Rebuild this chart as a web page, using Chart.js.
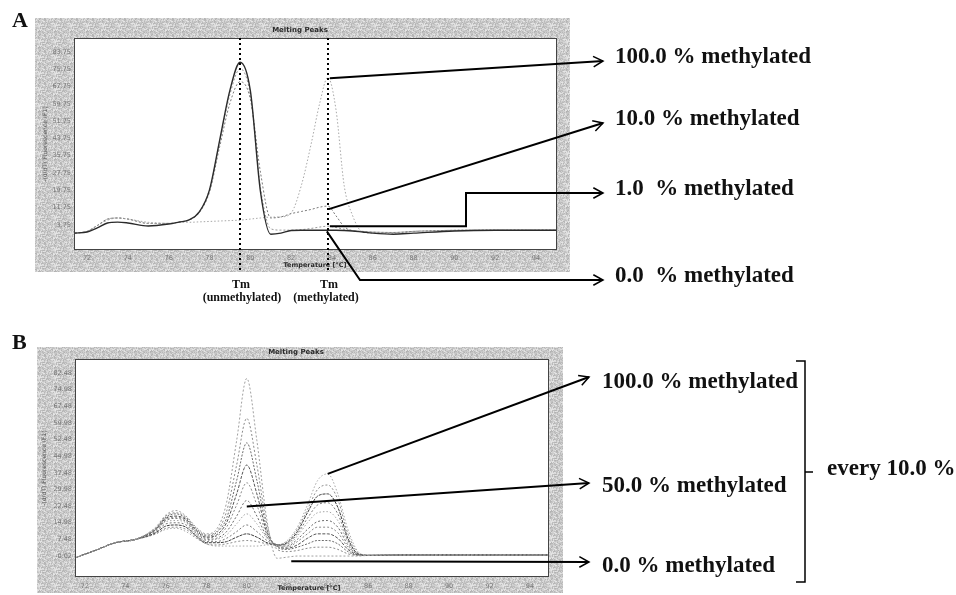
<!DOCTYPE html>
<html><head><meta charset="utf-8">
<script src="https://cdn.jsdelivr.net/npm/chart.js@4/dist/chart.umd.min.js"></script>
<style>
html,body{margin:0;padding:0;background:#fff;}
body{width:956px;height:595px;position:relative;overflow:hidden;font-family:'Liberation Serif','Times New Roman',serif;}
.panel{position:absolute;left:0;}
.lbl{position:absolute;font-weight:bold;font-size:23px;line-height:23px;white-space:pre;color:#111;}
.big{position:absolute;font-weight:bold;font-size:22px;line-height:22px;color:#111;}
.tm{position:absolute;font-weight:bold;font-size:12px;line-height:12px;width:120px;text-align:center;white-space:pre;color:#111;}
</style></head><body>
<canvas id="cA" class="panel" style="top:0px" width="956" height="305"></canvas>
<canvas id="cB" class="panel" style="top:320px" width="956" height="275"></canvas>

<div class="big" style="left:12px;top:9px">A</div>
<div class="big" style="left:12px;top:331px">B</div>

<div class="tm" style="left:181px;top:278px">Tm</div>
<div class="tm" style="left:182px;top:291px">(unmethylated)</div>
<div class="tm" style="left:269px;top:278px">Tm</div>
<div class="tm" style="left:266px;top:291px">(methylated)</div>

<div class="lbl" style="left:615px;top:44px">100.0 % methylated</div>
<div class="lbl" style="left:615px;top:106px">10.0 % methylated</div>
<div class="lbl" style="left:615px;top:176px">1.0  % methylated</div>
<div class="lbl" style="left:615px;top:263px">0.0  % methylated</div>

<div class="lbl" style="left:602px;top:369px">100.0 % methylated</div>
<div class="lbl" style="left:602px;top:473px">50.0 % methylated</div>
<div class="lbl" style="left:602px;top:553px">0.0 % methylated</div>
<div class="lbl" style="left:827px;top:456px">every 10.0 %</div>

<script>
// ---------------- DATA ----------------
const X_TICKS = [72, 74, 76, 78, 80, 82, 84, 86, 88, 90, 92, 94];
const Y_TICKS_A = [3.75, 11.75, 19.75, 27.75, 35.75, 43.75, 51.75, 59.75, 67.75, 75.75, 83.75];
const Y_TICKS_B = [-0.02, 7.48, 14.98, 22.48, 29.98, 37.48, 44.98, 52.48, 59.98, 67.48, 74.98, 82.48];
const TM_UNMETH = 79.5;
const TM_METH = 83.8;

// Panel A: temperatures (°C) and -dF/dT values
const tempsA = [71.4, 72, 72.5, 73, 73.5, 74, 75, 76, 76.5, 77, 77.5, 78, 78.5, 79, 79.5, 80, 80.5, 81, 81.5, 82, 82.5, 83, 83.4, 83.8, 84.2, 84.6, 85, 85.5, 86, 87, 88, 90, 92, 95];
const A_m0   = [0, 0.5, 2.4, 4.7, 5.1, 4.7, 3.3, 4.2, 5.1, 6.1, 9.8, 20, 43, 66, 79, 66, 19, -0.5, 0, 1.2, 1.3, 1.3, 1.3, 1.3, 1.3, 1.2, 1.0, 0.5, 0, -0.5, 0, 1.0, 1.3, 1.3];
const A_m1   = [0, 0.8, 3.5, 6, 7, 6.5, 4.5, 4.5, 5.1, 6.1, 9.8, 20, 42, 64, 76, 64, 21, 2, 1.4, 1.4, 1.6, 2.2, 2.8, 3.2, 2.6, 1.8, 1.2, 0.8, 0.5, 0.3, 0.8, 1.3, 1.4, 1.4];
const A_m10  = [0, 0.8, 3.5, 6.5, 7, 6.5, 4.5, 4.5, 5.1, 6, 9.5, 19, 40, 60, 70, 62, 28, 7, 7.5, 9, 10, 11, 12, 12.5, 8, 3, 1.2, 0.8, 0.5, 0.3, 0.8, 1.3, 1.4, 1.4];
const A_m100 = [0, 0.8, 3.5, 6.5, 7, 6.5, 5, 4.5, 5, 5, 5.2, 5.4, 5.6, 5.8, 6, 6.5, 7, 7.4, 7.5, 9.3, 22, 42, 60, 72, 57, 22, 8.4, 0.5, 0, 0, 0.8, 1.3, 1.4, 1.4];

// Panel B: temperatures (°C) and -dF/dT values, 0 % ... 100 % methylated
const tempsB = [71.6, 72.5, 73.5, 74.5, 75.5, 76, 76.5, 77, 77.5, 78, 78.5, 79, 79.5, 80, 80.5, 81, 81.5, 82, 82.5, 83, 83.5, 84, 84.5, 85, 85.5, 86, 88, 90, 92, 94.9];
const B_m0   = [-0.5, 2.5, 6, 7.5, 13, 18.5, 20.5, 18, 13, 10, 12, 24, 52, 80, 52, 16, -1, -0.5, 0, 0, 0, 0, 0, 0, 0, 0.3, 0.5, 0.5, 0.5, 0.5];
const B_m10  = [-0.5, 2.5, 6, 7.5, 12.5, 18, 19.5, 17.5, 12.5, 9.5, 11, 20, 41, 62, 41, 14, 3, 2, 2.5, 3.5, 4, 4, 3, 1, 0.3, 0.3, 0.5, 0.5, 0.5, 0.5];
const B_m20  = [-0.5, 2.5, 6, 7.5, 12.5, 17.5, 19, 17, 12, 9, 10.5, 17, 34, 51, 34, 12, 4, 3, 4, 5.5, 7, 7, 5.5, 2, 0.3, 0.3, 0.5, 0.5, 0.5, 0.5];
const B_m30  = [-0.5, 2.5, 6, 7.5, 12, 17, 18, 16.5, 11.5, 8.5, 9.5, 15, 28, 41, 28, 10.5, 4.5, 3.5, 5, 8, 10, 10, 8, 3, 0.5, 0.3, 0.5, 0.5, 0.5, 0.5];
const B_m40  = [-0.5, 2.5, 6, 7.5, 12, 16.5, 17.5, 16, 11, 8, 9, 13, 23, 33, 23, 9.5, 5, 4, 6.5, 10, 13, 13, 10.5, 4, 0.5, 0.3, 0.5, 0.5, 0.5, 0.5];
const B_m50  = [-0.5, 2.5, 6, 7.5, 11.5, 16, 17, 15.5, 10.5, 7.5, 8, 11, 18, 25, 18, 8.5, 5, 4.5, 7.5, 12, 15.5, 16, 13, 5, 0.7, 0.3, 0.5, 0.5, 0.5, 0.5];
const B_m60  = [-0.5, 2.5, 6, 7.5, 11.5, 15.5, 16, 15, 10, 7, 7.5, 9.5, 14.5, 19, 14.5, 8, 5, 5, 9, 15, 19.5, 20, 16, 6, 0.8, 0.3, 0.5, 0.5, 0.5, 0.5];
const B_m70  = [-0.5, 2.5, 6, 7.5, 11, 14.5, 15, 14, 9.5, 6.5, 6.5, 8, 11, 14, 11, 7, 5, 5.5, 10, 17, 23, 24, 19, 7, 1, 0.3, 0.5, 0.5, 0.5, 0.5];
const B_m80  = [-0.5, 2.5, 6, 7.5, 10.5, 13.5, 14, 13, 9, 6, 6, 6.5, 8.5, 10, 8.5, 6, 5, 6, 11, 19.5, 27, 28, 22, 8, 1, 0.3, 0.5, 0.5, 0.5, 0.5];
const B_m90  = [-0.5, 2.5, 6, 7.5, 10, 12.5, 13, 12, 8.5, 5.5, 5, 5.5, 6.5, 7, 6.5, 5.5, 5, 6.5, 12, 21, 30, 32, 25.5, 10, 1.5, 0.3, 0.5, 0.5, 0.5, 0.5];
const B_m100 = [-0.5, 2.5, 6, 7.5, 10, 12, 12.5, 11, 8, 5.5, 4.5, 4.5, 4.5, 4.5, 4.5, 5, 5, 7, 13, 23, 34, 37, 28, 12, 2, 0.3, 0.5, 0.5, 0.5, 0.5];

// ---------------- DRAWING ----------------
function grayPattern(ctx){
  // fixed speckle texture (deterministic hash) for the instrument-style frame
  const N = 16, c = document.createElement('canvas'); c.width = N; c.height = N;
  const g = c.getContext('2d');
  for (let y=0;y<N;y++) for (let x=0;x<N;x++){
    const h = ((x*73856093) ^ (y*19349663) ^ ((x+y)*83492791)) >>> 0;
    const s = 178 + (h % 53);
    g.fillStyle=`rgb(${s},${s},${s})`; g.fillRect(x,y,1,1);
  }
  return ctx.createPattern(c,'repeat');
}
function arrow(ctx, pts){
  ctx.beginPath(); ctx.moveTo(pts[0][0], pts[0][1]);
  for (let i=1;i<pts.length;i++) ctx.lineTo(pts[i][0], pts[i][1]);
  ctx.lineWidth = 2; ctx.stroke();
  const [x1,y1]=pts[pts.length-2], [x2,y2]=pts[pts.length-1];
  const ang=Math.atan2(y2-y1,x2-x1), L=11, sp=0.5;
  ctx.beginPath();
  ctx.moveTo(x2-L*Math.cos(ang-sp), y2-L*Math.sin(ang-sp));
  ctx.lineTo(x2,y2);
  ctx.lineTo(x2-L*Math.cos(ang+sp), y2-L*Math.sin(ang+sp));
  ctx.lineWidth = 1.5; ctx.stroke();
}
function toPts(temps, vals){ return temps.map((t,i)=>({x:t, y:vals[i]})); }

function makePanel(id, p){
  const datasets = p.series.map(s => ({
    data: toPts(p.temps, s.vals), borderColor: s.color, borderWidth: s.width,
    borderDash: s.dash, pointRadius: 0, cubicInterpolationMode: 'monotone', fill: false
  }));
  const deco = {
    id: 'deco_'+id,
    beforeDraw(chart){
      const {ctx, chartArea:a} = chart;
      ctx.save();
      ctx.fillStyle = grayPattern(ctx);
      ctx.fillRect(p.frame[0], p.frame[1], p.frame[2], p.frame[3]);
      ctx.fillStyle = '#fff';
      ctx.fillRect(a.left, a.top, a.right-a.left, a.bottom-a.top);
      ctx.fillStyle = '#2a2a2a';
      ctx.font = 'bold 7px "DejaVu Sans"'; ctx.textAlign='center'; ctx.textBaseline='middle';
      ctx.fillText('Melting Peaks', p.titleX, p.titleY);
      ctx.font = 'bold 6.5px "DejaVu Sans"';
      ctx.fillText('Temperature [°C]', p.xTitleX, p.xTitleY);
      ctx.translate(p.yTitleX, (a.top+a.bottom)/2); ctx.rotate(-Math.PI/2);
      ctx.font = '6px "DejaVu Sans"'; ctx.fillStyle='#555';
      ctx.fillText('-(d/dT) Fluorescence (F1)', 0, 0);
      ctx.restore();
    },
    afterDraw(chart){
      const {ctx, chartArea:a} = chart;
      ctx.save();
      ctx.strokeStyle = '#444'; ctx.lineWidth = 1;
      ctx.strokeRect(a.left+0.5, a.top+0.5, a.right-a.left-1, a.bottom-a.top-1);
      ctx.strokeStyle = '#000'; ctx.fillStyle='#000';
      p.annotate(chart, ctx);
      ctx.restore();
    }
  };
  return new Chart(document.getElementById(id), {
    type: 'line',
    data: { datasets },
    plugins: [deco],
    options: {
      responsive: false, animation: false, devicePixelRatio: 1,
      layout: { padding: p.padding },
      plugins: { legend: {display:false}, tooltip: {enabled:false} },
      scales: {
        x: { type:'linear', min:p.xMin, max:p.xMax,
             grid:{display:false, drawTicks:false}, border:{display:false},
             afterBuildTicks: s => { s.ticks = X_TICKS.map(v=>({value:v})); },
             afterFit: s => { s.height = p.xAxisH; },
             ticks:{ color:'#777', font:{size:6.5, family:'DejaVu Sans'}, padding:p.xTickPad, maxRotation:0, autoSkip:false,
                     callback: v => String(v) } },
        y: { type:'linear', min:p.yMin, max:p.yMax,
             grid:{display:false, drawTicks:false}, border:{display:false},
             afterBuildTicks: s => { s.ticks = p.yTicks.map(v=>({value:v})); },
             afterFit: s => { s.width = p.yAxisW; },
             ticks:{ color:'#777', font:{size:6.5, family:'DejaVu Sans'}, padding:3, autoSkip:false,
                     callback: v => v.toFixed(2) } }
      }
    }
  });
}

// Panel A
makePanel('cA', {
  temps: tempsA,
  series: [
    {vals:A_m0,   color:'#2b2b2b', width:1.4, dash:[]},
    {vals:A_m1,   color:'#9a9a9a', width:1, dash:[2,2]},
    {vals:A_m10,  color:'#7a7a7a', width:1, dash:[2,2]},
    {vals:A_m100, color:'#a8a8a8', width:1, dash:[1.5,2]}
  ],
  xMin:71.36, xMax:95.03, yMin:-7.8, yMax:90.2, yTicks:Y_TICKS_A,
  padding:{left:0, top:38, right:399, bottom:39}, xAxisH:16, yAxisW:74, xTickPad:4,
  frame:[35,18,535,254], titleX:300, titleY:30, xTitleX:315, xTitleY:265, yTitleX:45,
  annotate(chart, ctx){
    const xs=chart.scales.x, ys=chart.scales.y;
    const px=v=>xs.getPixelForValue(v), py=v=>ys.getPixelForValue(v);
    ctx.setLineDash([2,3]); ctx.lineWidth=2;
    [TM_UNMETH, TM_METH].forEach(t=>{ const x=Math.round(px(t)); ctx.beginPath(); ctx.moveTo(x, chart.chartArea.top); ctx.lineTo(x, 272); ctx.stroke(); });
    ctx.setLineDash([]);
    const i = tempsA.indexOf(TM_METH), xm = px(TM_METH);
    arrow(ctx, [[xm+2, py(A_m100[i])+1], [603, 61]]);
    arrow(ctx, [[xm+1, py(A_m10[i])+3], [603, 123]]);
    arrow(ctx, [[xm+2, py(A_m1[i])], [466, py(A_m1[i])], [466, 193], [603, 193]]);
    arrow(ctx, [[xm-1, py(A_m0[i])+1], [360, 280], [603, 280]]);
  }
});

// Panel B
makePanel('cB', {
  temps: tempsB,
  series: [
    {vals:B_m0,   color:'#a0a0a0', width:1, dash:[2,2]},
    {vals:B_m10,  color:'#8c8c8c', width:1, dash:[2,2]},
    {vals:B_m20,  color:'#6e6e6e', width:1, dash:[2,1.5]},
    {vals:B_m30,  color:'#555555', width:1, dash:[3,1.5]},
    {vals:B_m40,  color:'#8a8a8a', width:1, dash:[2,2]},
    {vals:B_m50,  color:'#6a6a6a', width:1, dash:[2,2]},
    {vals:B_m60,  color:'#a5a5a5', width:1, dash:[1.5,2]},
    {vals:B_m70,  color:'#7b7b7b', width:1, dash:[2,2]},
    {vals:B_m80,  color:'#3d3d3d', width:1, dash:[3,1]},
    {vals:B_m90,  color:'#909090', width:1, dash:[2,2]},
    {vals:B_m100, color:'#a8a8a8', width:1, dash:[1.5,2]}
  ],
  xMin:71.51, xMax:94.94, yMin:-9.44, yMax:88.76, yTicks:Y_TICKS_B,
  padding:{left:0, top:39, right:407, bottom:4}, xAxisH:14, yAxisW:75, xTickPad:5,
  frame:[37,27,526,246], titleX:296, titleY:32, xTitleX:309, xTitleY:268, yTitleX:44,
  annotate(chart, ctx){
    const xs=chart.scales.x, ys=chart.scales.y;
    const px=v=>xs.getPixelForValue(v), py=v=>ys.getPixelForValue(v);
    const i84 = tempsB.indexOf(84), i80 = tempsB.indexOf(80), i82 = tempsB.indexOf(82);
    arrow(ctx, [[px(84), py(B_m100[i84])], [589, 57]]);
    arrow(ctx, [[px(80), py(B_m50[i80])+6], [589, 163]]);
    arrow(ctx, [[px(82.2), py(B_m0[i82])+4], [589, 242]]);
    // bracket
    ctx.lineWidth = 1.5;
    ctx.beginPath();
    ctx.moveTo(796, 41); ctx.lineTo(805, 41); ctx.lineTo(805, 262); ctx.lineTo(796, 262);
    ctx.moveTo(805, 152); ctx.lineTo(813, 152);
    ctx.stroke();
  }
});
</script>
</body></html>
